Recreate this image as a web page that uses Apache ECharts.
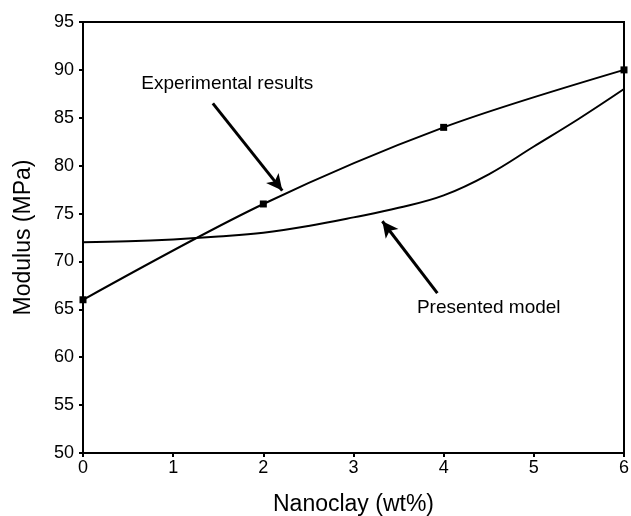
<!DOCTYPE html>
<html>
<head>
<meta charset="utf-8">
<script src="https://cdn.jsdelivr.net/npm/echarts@6/dist/echarts.min.js"></script>
<style>html,body{margin:0;padding:0;background:#fff}#c{width:631px;height:516px}</style>
</head>
<body>
<div id="c"></div>
<script>
const expX = [0, 2, 4, 6];
const expY = [66, 76, 84, 90];
const modelX = [0, 0.5, 1, 1.5, 2, 2.5, 3, 3.5, 4, 4.5, 5, 5.5, 6];
const modelY = [72, 72.1, 72.3, 72.6, 73, 73.7, 74.6, 75.6, 76.9, 79.1, 82, 84.9, 88];
const xTicks = [0, 1, 2, 3, 4, 5, 6];
const yTicks = [50, 55, 60, 65, 70, 75, 80, 85, 90, 95];
const annoText = ['Experimental results', 'Presented model'];
const annoTextPos = [[1.6, 88.6], [4.5, 65.2]];
const arrowTail = [[1.44, 86.5], [3.93, 66.7]];
const arrowHead = [[2.21, 77.4], [3.32, 74.2]];

const FONT = '"Liberation Sans", Arial, sans-serif';
const chart = echarts.init(document.getElementById('c'));
chart.setOption({
  animation: false,
  backgroundColor: '#fff',
  grid: { left: 83, right: 7, top: 22, bottom: 63, show: true, borderColor: '#000', borderWidth: 2, containLabel: false, outerBoundsMode: 'none' },
  xAxis: {
    type: 'value', min: xTicks[0], max: xTicks[xTicks.length - 1], interval: 1,
    name: 'Nanoclay (wt%)', nameLocation: 'middle', nameGap: 40,
    nameTextStyle: { fontFamily: FONT, fontSize: 23, color: '#000' },
    axisLine: { lineStyle: { color: '#000', width: 2 } },
    axisTick: { show: true, inside: false, length: 4, lineStyle: { color: '#000', width: 2 } },
    axisLabel: { fontFamily: FONT, fontSize: 18, color: '#000', margin: 6 },
    splitLine: { show: false }
  },
  yAxis: {
    type: 'value', min: yTicks[0], max: yTicks[yTicks.length - 1], interval: 5,
    name: 'Modulus (MPa)', nameLocation: 'middle', nameGap: 48,
    nameTextStyle: { fontFamily: FONT, fontSize: 23, color: '#000' },
    axisLine: { lineStyle: { color: '#000', width: 2 } },
    axisTick: { show: true, inside: false, length: 4, lineStyle: { color: '#000', width: 2 } },
    axisLabel: { fontFamily: FONT, fontSize: 18, color: '#000', margin: 9 },
    splitLine: { show: false }
  },
  series: [
    {
      name: 'Experimental results', type: 'line', smooth: 0.3,
      data: expX.map((x, i) => [x, expY[i]]),
      symbol: 'rect', symbolSize: 7, showSymbol: true,
      itemStyle: { color: '#000' },
      lineStyle: { color: '#000', width: 2 },
      markLine: {
        silent: true, symbol: ['none', 'arrow'], symbolSize: [12, 16],
        lineStyle: { color: '#000', width: 3, type: 'solid' },
        label: { show: false },
        data: arrowTail.map((t, i) => [{ coord: t }, { coord: arrowHead[i] }])
      },
      markPoint: {
        silent: true, symbol: 'circle', symbolSize: 1,
        itemStyle: { color: 'rgba(0,0,0,0)' },
        label: { show: true, position: 'inside', fontFamily: FONT, fontSize: 19, color: '#000', formatter: p => p.name },
        data: annoText.map((t, i) => ({ name: t, coord: annoTextPos[i] }))
      }
    },
    {
      name: 'Presented model', type: 'line', smooth: 0.4,
      data: modelX.map((x, i) => [x, modelY[i]]),
      showSymbol: false, symbol: 'none',
      lineStyle: { color: '#000', width: 2 }
    }
  ]
});
</script>
</body>
</html>
